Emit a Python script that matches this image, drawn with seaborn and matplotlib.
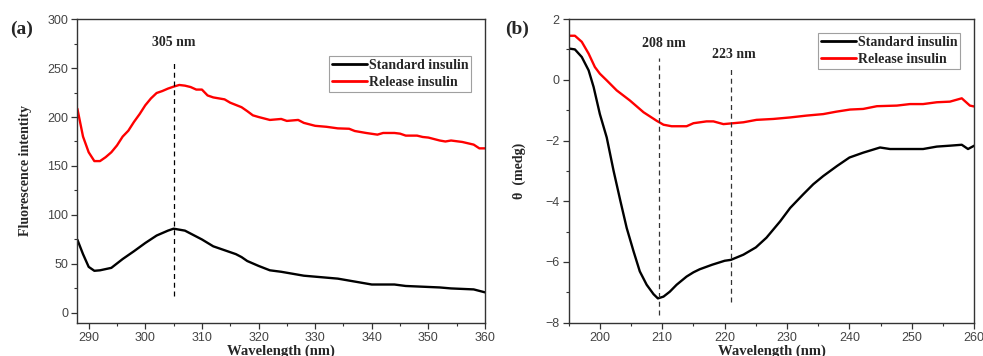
import numpy as np
import pandas as pd
import matplotlib
matplotlib.use("Agg")
import matplotlib.pyplot as plt
import seaborn as sns
from matplotlib.ticker import MultipleLocator

# ---------------- data (panel a: fluorescence) ----------------
a_std_x = [288, 289, 290, 291, 292, 294, 296, 298, 300, 302, 304, 305, 306, 307, 308, 310,
           312, 314, 316, 317, 318, 320, 322, 324, 326, 328, 330, 332, 334, 336, 338, 340,
           342, 344, 346, 348, 350, 352, 354, 356, 358, 360]
a_std_y = [74.8, 60, 47, 43, 43.5, 46, 55, 63, 71.4, 79, 84, 86, 85, 84, 81, 75,
           68, 64, 60, 57, 53, 48, 43.5, 42, 40, 38, 37, 36, 35, 33, 31, 29,
           29, 29, 27.5, 27, 26.5, 26, 25, 24.5, 24, 21]
a_rel_x = [288, 289, 290, 291, 292, 293, 294, 295, 296, 297, 298, 299, 300, 301, 302, 303,
           304, 305, 306, 307, 308, 309, 310, 311, 312, 314, 315, 317, 318, 319, 320, 322,
           324, 325, 327, 328, 330, 332, 334, 336, 337, 339, 341, 342, 344, 345, 346, 348,
           349, 350, 352, 353, 354, 356, 358, 359, 360]
a_rel_y = [208.5, 180, 164, 155, 155, 159, 164, 171, 180, 186, 195, 203, 212, 219, 224.5, 226.5,
           229, 231, 232.7, 232, 230.6, 228, 228, 222, 220, 218, 214.6, 210, 206, 201.7, 200, 197,
           198, 196, 197, 194, 191, 190, 188.4, 188, 185.7, 183.7, 182, 183.7, 183.7, 183, 181, 181,
           179.6, 179, 176, 175, 176, 174.5, 171.8, 168, 168]

# ---------------- data (panel b: CD) ----------------
b_std_x = [195, 196, 197.1, 198.2, 199, 200, 201.1, 202.2, 203.3, 204.3, 205.4, 206.4, 207.5,
           208.6, 209.3, 210.2, 211.2, 212.3, 213.9, 215, 216, 218, 220, 221, 223, 225,
           226.7, 228.9, 230.5, 232.6, 234.2, 235.8, 238, 240, 242.2, 244.9, 246.5, 249.7,
           251.8, 254, 256.1, 258, 259, 260]
b_std_y = [1.03, 1.0, 0.75, 0.31, -0.24, -1.13, -1.9, -3.0, -4.0, -4.88, -5.65, -6.31, -6.75,
           -7.06, -7.2, -7.14, -6.98, -6.75, -6.48, -6.34, -6.24, -6.09, -5.96, -5.93, -5.76, -5.52,
           -5.2, -4.66, -4.22, -3.77, -3.44, -3.17, -2.84, -2.56, -2.4, -2.23, -2.28, -2.28,
           -2.28, -2.2, -2.17, -2.14, -2.28, -2.17]
b_rel_x = [195, 196, 197.1, 198.2, 199.2, 200, 201.1, 202.7, 204.8, 207, 209.1, 210.2, 211.5,
           213.9, 215, 217.1, 218.2, 219.8, 221.4, 223, 225.1, 227.8, 230.5, 233.1, 235.8,
           237.9, 240.1, 242.2, 244.4, 247.6, 249.7, 251.8, 254, 256.1, 258, 259.3, 260]
b_rel_y = [1.45, 1.45, 1.25, 0.86, 0.42, 0.2, -0.02, -0.35, -0.68, -1.07, -1.35, -1.48, -1.53,
           -1.53, -1.43, -1.37, -1.37, -1.46, -1.43, -1.4, -1.32, -1.29, -1.24, -1.18, -1.13,
           -1.05, -0.98, -0.96, -0.87, -0.85, -0.8, -0.8, -0.74, -0.72, -0.61, -0.85, -0.88]

series_names = ["Standard insulin", "Release insulin"]
series_colors = ["#000000", "#ff0000"]

a_marker_x = [305]
a_marker_labels = ["305 nm"]
b_marker_x = [209.4, 221.0]
b_marker_labels = ["208 nm", "223 nm"]

# ---------------- styling ----------------
sns.set_style("ticks")
plt.rcParams["font.family"] = ["Liberation Sans", "DejaVu Sans"]
serif = ["Liberation Serif", "DejaVu Serif"]

fig = plt.figure(figsize=(9.83, 3.56), dpi=100)
ax1 = fig.add_axes([0.0787, 0.0935, 0.4147, 0.853])
ax2 = fig.add_axes([0.5785, 0.0935, 0.4126, 0.853])


def make_df(sx, sy, rx, ry):
    return pd.concat([
        pd.DataFrame({"x": sx, "y": sy, "series": series_names[0]}),
        pd.DataFrame({"x": rx, "y": ry, "series": series_names[1]}),
    ], ignore_index=True)


df_a = make_df(a_std_x, a_std_y, a_rel_x, a_rel_y)
df_b = make_df(b_std_x, b_std_y, b_rel_x, b_rel_y)

pal = dict(zip(series_names, series_colors))
for ax, df in [(ax1, df_a), (ax2, df_b)]:
    sns.lineplot(data=df, x="x", y="y", hue="series", palette=pal, linewidth=1.7,
                 ax=ax, sort=True, estimator=None)


def style_axes(ax):
    for s in ax.spines.values():
        s.set_color("#333333")
        s.set_linewidth(1.0)
    ax.tick_params(which="major", direction="out", length=4, width=0.9, pad=2.5,
                   labelsize=9, colors="#333333", labelcolor="#444444")
    ax.tick_params(which="minor", direction="out", length=2.5, width=0.8, colors="#333333")
    ax.set_xlabel("Wavelength (nm)", fontsize=10.5, fontweight="bold", family=serif, labelpad=0.5)
    leg = ax.legend(loc="upper right", frameon=True, fancybox=False,
                    handlelength=2.5, handletextpad=0.15, borderpad=0.2, labelspacing=0.3,
                    borderaxespad=0.0,
                    prop={"family": serif, "weight": "bold", "size": 10})
    leg.get_frame().set_edgecolor("#888888")
    leg.get_frame().set_linewidth(0.8)
    for line in leg.get_lines():
        line.set_linewidth(2.0)
    return leg


# panel a
ax1.set_xlim(288, 360)
ax1.set_ylim(-10, 300)
ax1.xaxis.set_major_locator(MultipleLocator(10))
ax1.xaxis.set_minor_locator(MultipleLocator(5))
ax1.yaxis.set_major_locator(MultipleLocator(50))
ax1.yaxis.set_minor_locator(MultipleLocator(25))
leg1 = style_axes(ax1)
leg1.set_bbox_to_anchor((0.966, 0.878))
ax1.set_ylabel("Fluorescence intentity", fontsize=10, fontweight="bold", family=serif, labelpad=11)
for xv, lab in zip(a_marker_x, a_marker_labels):
    ax1.plot([xv, xv], [17, 258], ls=(0, (4, 3)), color="black", lw=0.9)
    ax1.text(xv, 276, lab, ha="center", va="center", fontsize=10, fontweight="bold", family=serif)
fig.text(0.010, 0.905, "(a)", fontsize=14, fontweight="bold", family=serif)

# panel b
ax2.set_xlim(195, 260)
ax2.set_ylim(-8, 2)
ax2.xaxis.set_major_locator(MultipleLocator(10))
ax2.xaxis.set_minor_locator(MultipleLocator(5))
ax2.yaxis.set_major_locator(MultipleLocator(2))
ax2.yaxis.set_minor_locator(MultipleLocator(1))
leg2 = style_axes(ax2)
leg2.set_bbox_to_anchor((0.965, 0.954))
ax2.set_ylabel("θ  (medg)", fontsize=10, fontweight="bold", family=serif, labelpad=14)
b_vline_tops = [0.73, 0.34]
b_label_y = [1.21, 0.84]
b_label_x = [210.2, 221.5]
for xv, lab, top, ly, lx in zip(b_marker_x, b_marker_labels, b_vline_tops, b_label_y, b_label_x):
    bottom = -7.75 if xv < 215 else -7.31
    ax2.plot([xv, xv], [bottom, top], ls=(0, (4, 3)), color="#333333", lw=0.9)
    ax2.text(lx, ly, lab, ha="center", va="center", fontsize=10, fontweight="bold", family=serif)
fig.text(0.514, 0.905, "(b)", fontsize=14, fontweight="bold", family=serif)

fig.savefig("out.png", dpi=100)
